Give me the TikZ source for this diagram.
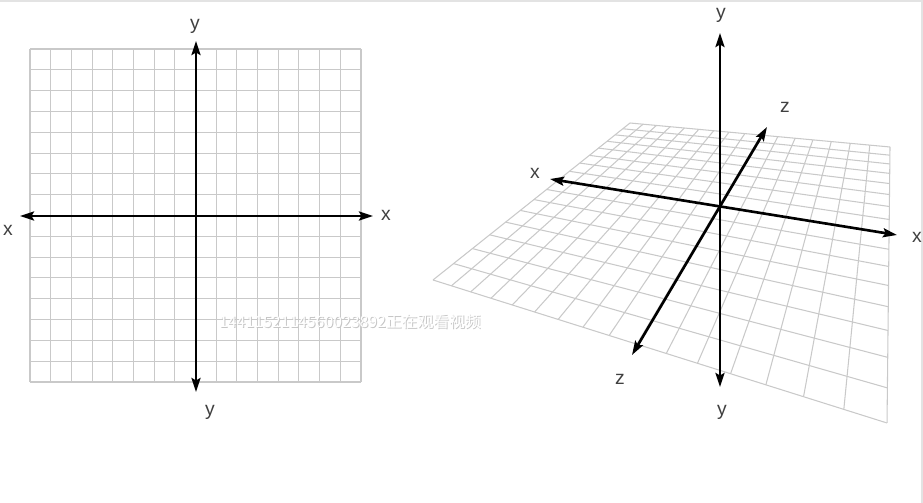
\documentclass[tikz,border=0pt]{standalone}
\usepackage{fontspec}
\setmainfont{Liberation Sans}
\newfontfamily\cjkfont{Noto Sans CJK SC}
\usetikzlibrary{arrows.meta}

% perspective map of the unit square onto the tilted plane
\def\homA{224.46}
\def\homB{(-73.96)}
\def\homC{(-90)}
\def\homD{36.54}
\def\homE{125.70}
\def\homF{(-84)}
\def\homG{(-0.20905)}
\def\homH{(-0.42870)}

\begin{document}
\begin{tikzpicture}[x=0.02cm, y=-0.02cm]
    % Styles
    \tikzstyle{gridline} = [draw=gray!42, line width=0.6pt]
    \tikzstyle{axis} = [line width=1.5pt,
        {Stealth[length=2.8mm,width=1.8mm,inset=0.5mm]}-{Stealth[length=2.8mm,width=1.8mm,inset=0.5mm]}]
    \tikzstyle{axislabel} = [text=black!75, font=\fontsize{11}{13}\selectfont, inner sep=1pt]
    \tikzstyle{edgeline} = [draw=gray!22, line width=0.8pt]

    \useasboundingbox (0,0) rectangle (923,503);
    \draw [edgeline] (0,1) -- (923,1);
    \draw [edgeline] (922,0) -- (922,503);

    % === LEFT: flat grid ===
    \foreach \i in {0,...,16} {
        \draw [gridline] ({30+\i*20.6875},49) -- ({30+\i*20.6875},382);
        \draw [gridline] (30,{49+\i*20.8125}) -- (361,{49+\i*20.8125});
    }

    % === RIGHT: plane in perspective ===
    \begin{scope}[shift={(720,207)}]
        \foreach \i in {0,...,16} {
            \pgfmathsetmacro{\fr}{\i/16}
            % lines running to the front
            \pgfmathsetmacro{\wa}{1+\homG*\fr}
            \pgfmathsetmacro{\wb}{1+\homG*\fr+\homH}
            \draw [gridline] ({(\homA*\fr+\homC)/\wa},{(\homD*\fr+\homF)/\wa})
                -- ({(\homA*\fr+\homB+\homC)/\wb},{(\homD*\fr+\homE+\homF)/\wb});
            % lines running across
            \pgfmathsetmacro{\wc}{1+\homH*\fr}
            \pgfmathsetmacro{\wd}{1+\homG+\homH*\fr}
            \draw [gridline] ({(\homB*\fr+\homC)/\wc},{(\homE*\fr+\homF)/\wc})
                -- ({(\homA+\homB*\fr+\homC)/\wd},{(\homD+\homE*\fr+\homF)/\wd});
        }
    \end{scope}

    % === LEFT: axes ===
    \coordinate (xleft) at (20,216);
    \coordinate (xright) at (373,216);
    \coordinate (ytop) at (196,41);
    \coordinate (ybottom) at (196,392);
    \draw [axis] (xleft) -- (xright);
    \draw [axis] (ybottom) -- (ytop);
    \node [axislabel] (lxr) at (386,215) {x};
    \node [axislabel] (lxl) at (8,230) {x};
    \node [axislabel] (lyt) at (195,26) {y};
    \node [axislabel] (lyb) at (210,412) {y};

    % === RIGHT: axes ===
    \coordinate (pxleft) at (550,179);
    \coordinate (pxright) at (897,235);
    \coordinate (pytop) at (720,33);
    \coordinate (pybottom) at (720,387);
    \coordinate (pzback) at (767,127);
    \coordinate (pzfront) at (632,355);
    \draw [axis] (pxleft) -- (pxright);
    \draw [axis] (pybottom) -- (pytop);
    \draw [axis] (pzfront) -- (pzback);
    \node [axislabel] (rxl) at (535,173) {x};
    \node [axislabel] (rxr) at (917,237) {x};
    \node [axislabel] (ryt) at (721,15) {y};
    \node [axislabel] (ryb) at (722,412) {y};
    \node [axislabel] (rzb) at (785,107) {z};
    \node [axislabel] (rzf) at (620,379) {z};

    % === Watermark ===
    \node [text=gray!45, font=\cjkfont\fontsize{9}{11}\selectfont] at (351,323) {1441152114560023892正在观看视频};
    \node [text=white, font=\cjkfont\fontsize{9}{11}\selectfont] (mark) at (350,322) {1441152114560023892正在观看视频};
\end{tikzpicture}
\end{document}
